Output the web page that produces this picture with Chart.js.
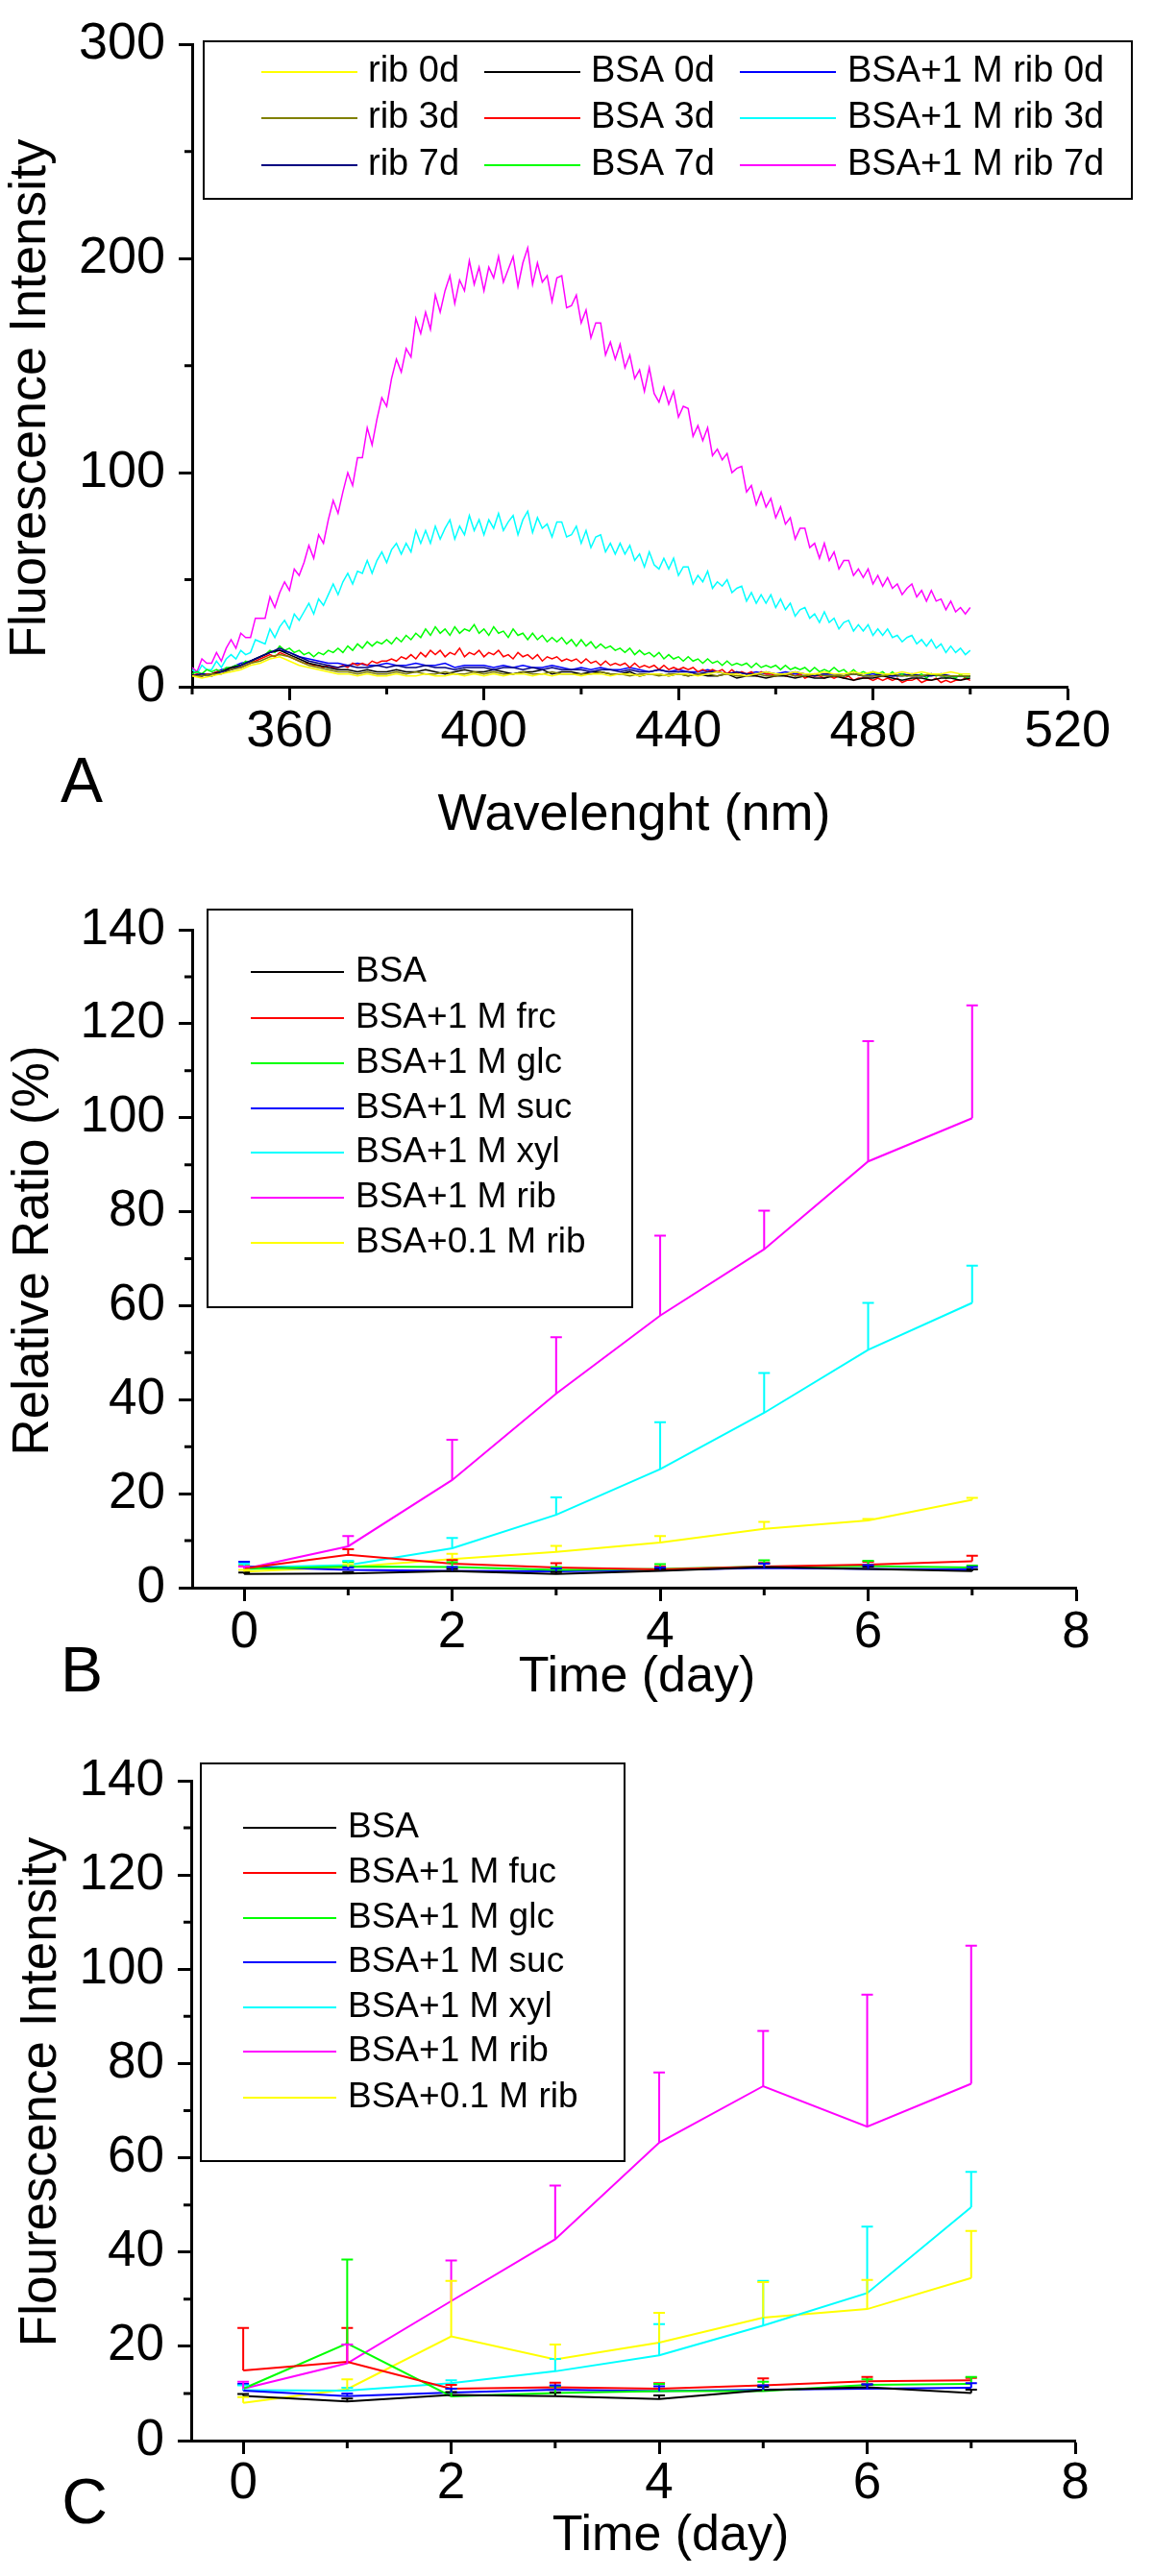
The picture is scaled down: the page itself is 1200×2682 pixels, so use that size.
<!DOCTYPE html>
<html>
<head>
<meta charset="utf-8">
<script src="https://cdn.jsdelivr.net/npm/chart.js@4.4.1/dist/chart.umd.min.js"></script>
<style>
  html, body { margin: 0; padding: 0; background: #fff; }
  .panel { position: absolute; left: 0; width: 1200px; height: 894px; }
</style>
</head>
<body>
<div class="panel" style="top:0px"><canvas id="chartA" width="1200" height="894"></canvas></div>
<div class="panel" style="top:894px"><canvas id="chartB" width="1200" height="894"></canvas></div>
<div class="panel" style="top:1788px"><canvas id="chartC" width="1200" height="894"></canvas></div>
<script>
  'use strict';

  const FONT = "'Liberation Sans', Arial, sans-serif";

  // ---------- panel A : emission spectra 340-500 nm ----------
  // the strong curves are read every 1 nm, the flat ones every 2 nm
  const waveFine = [];
  for (let w = 340; w <= 500; w += 1) waveFine.push(w);
  const waveCoarse = [];
  for (let w = 340; w <= 500; w += 2) waveCoarse.push(w);

  const specRib0 = [5, 4, 5, 6, 7, 8, 10, 11, 13, 14,
    12, 10, 9, 8, 7, 6, 6, 5, 6, 5,
    5, 6, 5, 5, 6, 5, 5, 6, 5, 6,
    5, 6, 5, 6, 6, 5, 6, 5, 6, 6,
    5, 6, 6, 5, 6, 6, 5, 6, 6, 5,
    6, 6, 5, 6, 7, 6, 6, 5, 6, 7,
    6, 6, 7, 6, 6, 7, 6, 6, 7, 6,
    7, 6, 6, 7, 6, 7, 6, 6, 7, 6,
    6];
  const specRib3 = [5, 5, 6, 6, 8, 9, 11, 12, 14, 15,
    14, 12, 10, 9, 8, 7, 7, 6, 7, 6,
    6, 7, 6, 7, 6, 6, 7, 6, 6, 7,
    6, 7, 6, 6, 7, 6, 6, 7, 6, 6,
    6, 6, 7, 6, 6, 5, 6, 6, 5, 6,
    6, 5, 6, 6, 5, 6, 5, 5, 6, 5,
    5, 6, 5, 5, 6, 5, 5, 5, 6, 5,
    5, 5, 6, 5, 5, 5, 6, 5, 5, 5,
    5];
  const specRib7 = [5, 6, 5, 7, 8, 10, 12, 14, 16, 18,
    16, 14, 12, 11, 10, 9, 10, 9, 9, 10,
    9, 10, 9, 9, 10, 9, 9, 8, 9, 9,
    9, 8, 9, 9, 8, 9, 8, 9, 8, 8,
    8, 7, 8, 8, 7, 8, 7, 7, 8, 7,
    7, 7, 6, 7, 7, 6, 7, 6, 6, 7,
    6, 6, 7, 6, 5, 6, 6, 5, 6, 5,
    5, 6, 5, 5, 6, 5, 5, 6, 5, 5,
    5];
  const specBsa0 = [5, 5, 6, 7, 9, 10, 12, 14, 16, 17,
    15, 13, 11, 10, 9, 8, 8, 7, 8, 7,
    7, 8, 7, 7, 8, 7, 6, 7, 8, 7,
    7, 8, 7, 6, 7, 7, 8, 6, 7, 7,
    6, 7, 7, 6, 6, 7, 5, 6, 6, 5,
    6, 5, 6, 5, 5, 6, 4, 5, 5, 4,
    5, 5, 4, 5, 4, 4, 5, 4, 3, 4,
    4, 5, 4, 3, 4, 4, 3, 4, 4, 3,
    4];
  const specMix0 = [5, 6, 6, 8, 9, 11, 12, 14, 16, 17,
    16, 14, 13, 12, 11, 11, 10, 11, 10, 10,
    11, 10, 10, 11, 10, 10, 11, 9, 10, 10,
    10, 9, 10, 9, 10, 9, 9, 10, 9, 8,
    9, 8, 9, 8, 8, 9, 8, 7, 8, 7,
    8, 7, 7, 8, 7, 6, 7, 6, 7, 6,
    6, 7, 6, 6, 5, 6, 6, 5, 6, 5,
    6, 5, 5, 6, 5, 5, 6, 5, 5, 5,
    5];

  const specBsa3 = [5, 6, 5, 6, 6, 7, 7, 8, 8, 9,
    9, 10, 11, 12, 13, 14, 15, 14, 16, 15,
    14, 13, 12, 11, 11, 10, 10, 9, 10, 9,
    9, 10, 9, 11, 10, 11, 10, 12, 11, 12,
    12, 13, 12, 14, 13, 15, 13, 16, 14, 17,
    15, 17, 14, 16, 15, 18, 14, 16, 15, 17,
    14, 16, 15, 17, 14, 15, 13, 16, 14, 15,
    13, 15, 12, 14, 13, 14, 12, 13, 12, 13,
    11, 13, 11, 12, 10, 12, 10, 11, 10, 11,
    9, 11, 9, 10, 9, 10, 8, 10, 8, 9,
    8, 9, 8, 9, 7, 8, 7, 8, 7, 8,
    6, 8, 6, 7, 6, 7, 5, 7, 6, 6,
    5, 6, 5, 6, 5, 6, 4, 5, 5, 5,
    4, 5, 4, 5, 4, 5, 3, 4, 4, 4,
    3, 4, 3, 4, 3, 4, 2, 3, 3, 4,
    2, 3, 3, 4, 2, 3, 2, 3, 3, 4,
    3];
  const specBsa7 = [6, 7, 6, 8, 7, 8, 7, 9, 9, 10,
    10, 12, 11, 13, 14, 15, 17, 16, 19, 17,
    18, 16, 17, 15, 16, 14, 16, 15, 17, 16,
    18, 16, 19, 17, 20, 18, 21, 19, 21, 20,
    22, 20, 23, 21, 24, 22, 25, 23, 27, 24,
    28, 25, 27, 24, 28, 25, 27, 26, 29, 25,
    27, 24, 28, 25, 26, 23, 27, 24, 25, 22,
    25, 22, 24, 21, 23, 21, 23, 20, 22, 19,
    22, 19, 21, 18, 20, 18, 19, 17, 18, 16,
    18, 15, 17, 15, 16, 14, 16, 13, 15, 13,
    14, 12, 14, 12, 13, 11, 13, 11, 12, 10,
    12, 10, 11, 10, 11, 9, 11, 9, 10, 9,
    10, 8, 10, 8, 9, 8, 9, 7, 9, 7,
    8, 7, 9, 7, 8, 6, 8, 6, 7, 6,
    7, 6, 7, 5, 7, 5, 6, 5, 6, 5,
    6, 4, 6, 5, 6, 4, 5, 4, 6, 4,
    5];
  const specMix3 = [8, 6, 10, 8, 8, 12, 9, 13, 15, 13,
    17, 15, 16, 22, 21, 20, 27, 23, 28, 31,
    27, 34, 31, 35, 39, 34, 41, 38, 43, 48,
    43, 49, 53, 48, 54, 53, 59, 53, 59, 63,
    58, 64, 67, 62, 67, 63, 73, 67, 73, 67,
    75, 69, 74, 78, 69, 75, 71, 80, 73, 78,
    71, 78, 74, 81, 73, 77, 80, 71, 78, 82,
    72, 79, 74, 76, 70, 77, 77, 70, 71, 75,
    67, 73, 65, 70, 71, 63, 67, 62, 67, 62,
    66, 59, 62, 56, 63, 57, 55, 60, 55, 60,
    52, 56, 56, 48, 52, 49, 54, 46, 49, 47,
    50, 44, 46, 47, 40, 44, 39, 43, 39, 43,
    37, 41, 36, 39, 33, 36, 37, 32, 34, 30,
    35, 30, 32, 27, 30, 31, 26, 29, 26, 29,
    24, 27, 24, 27, 23, 24, 21, 23, 24, 20,
    22, 19, 22, 18, 20, 16, 19, 16, 18, 15,
    17];
  const specMix7 = [9, 7, 13, 11, 11, 16, 12, 18, 22, 18,
    25, 23, 23, 32, 32, 32, 42, 37, 44, 49,
    45, 55, 52, 58, 66, 60, 71, 67, 78, 87,
    81, 91, 100, 94, 107, 107, 121, 113, 125, 135,
    131, 144, 153, 147, 158, 154, 172, 165, 175, 167,
    183, 175, 185, 192, 179, 190, 185, 199, 188, 196,
    185, 196, 191, 201, 189, 195, 201, 187, 198, 205,
    188, 198, 189, 192, 180, 191, 192, 177, 178, 183,
    170, 176, 163, 170, 170, 155, 161, 153, 160, 149,
    155, 144, 148, 138, 149, 137, 133, 140, 132, 138,
    126, 131, 130, 117, 122, 115, 121, 108, 111, 106,
    109, 100, 102, 103, 91, 94, 85, 91, 84, 88,
    79, 84, 76, 79, 69, 74, 74, 65, 67, 60,
    67, 59, 63, 55, 59, 59, 52, 55, 51, 55,
    48, 52, 47, 51, 46, 48, 43, 46, 48, 42,
    45, 40, 45, 40, 41, 36, 40, 35, 37, 34,
    37];

  // ---------- panels B and C : daily means and upper error bars ----------
  const days = [0, 1, 2, 3, 4, 5, 6, 7];

  const ratioBsa = [2.9, 3.0, 3.5, 2.9, 3.6, 4.4, 4.0, 3.5];
  const ratioBsaErr = [0.3, 0.3, 0.5, 0.4, 0.4, 0.8, 0.5, 0.4];
  const ratioFrc = [4.1, 7.0, 5.1, 4.3, 3.9, 4.5, 4.9, 5.6];
  const ratioFrcErr = [0.5, 1.2, 0.8, 0.9, 0.6, 0.7, 0.6, 1.2];
  const ratioGlc = [4.0, 4.5, 4.4, 3.8, 4.0, 4.5, 4.6, 4.3];
  const ratioGlcErr = [0.6, 1.0, 1.0, 0.6, 1.0, 1.3, 1.1, 0.4];
  const ratioSuc = [4.5, 3.8, 3.6, 3.5, 3.8, 4.2, 4.0, 3.9];
  const ratioSucErr = [1.0, 0.5, 0.8, 0.6, 0.5, 0.9, 0.8, 0.5];
  const ratioXyl = [4.3, 4.8, 8.4, 15.5, 25.2, 37.2, 50.6, 60.6];
  const ratioXylErr = [0.8, 0.9, 2.2, 3.7, 10.0, 8.5, 10.0, 7.9];
  const ratioRib = [4.0, 8.8, 22.9, 41.3, 57.9, 72.0, 90.7, 99.9];
  const ratioRibErr = [0.5, 2.2, 8.6, 12.0, 17.0, 8.2, 25.6, 24.0];
  const ratioRib01 = [3.4, 4.4, 6.1, 7.6, 9.6, 12.5, 14.3, 18.7];
  const ratioRib01Err = [0.4, 0.6, 1.1, 1.3, 1.4, 1.5, 0.3, 0.4];

  const fluoBsa = [9.5, 8.3, 9.7, 9.4, 8.8, 10.7, 11.3, 10.1];
  const fluoBsaErr = [0.4, 0.6, 0.6, 0.8, 0.8, 0.7, 0.6, 0.7];
  const fluoFuc = [14.9, 16.7, 11.0, 11.3, 11.0, 11.7, 12.6, 12.8];
  const fluoFucErr = [9.0, 7.2, 0.8, 1.0, 1.2, 1.5, 0.9, 0.5];
  const fluoGlc = [11.0, 20.6, 9.4, 10.1, 10.5, 10.5, 11.8, 12.0];
  const fluoGlcErr = [0.8, 17.8, 1.6, 1.4, 1.5, 2.0, 1.2, 1.5];
  const fluoSuc = [10.6, 9.4, 10.2, 10.8, 10.5, 10.8, 11.0, 11.2];
  const fluoSucErr = [1.4, 0.6, 0.8, 0.9, 1.0, 0.9, 0.9, 1.0];
  const fluoXyl = [10.7, 10.6, 12.2, 14.7, 18.1, 24.4, 31.3, 49.5];
  const fluoXylErr = [1.0, 0.6, 0.6, 2.6, 6.6, 9.5, 14.1, 7.5];
  const fluoRib = [11.0, 16.4, 29.6, 42.7, 63.2, 75.2, 66.6, 75.7];
  const fluoRibErr = [1.5, 4.0, 8.6, 11.4, 14.9, 11.7, 28.0, 29.3];
  const fluoRib01 = [8.0, 10.9, 22.1, 17.2, 20.8, 26.1, 27.9, 34.5];
  const fluoRib01Err = [1.2, 2.1, 11.8, 3.2, 6.3, 7.5, 6.2, 10.0];

  // ---------- helpers ----------
  function spectrum(label, color, values, grid) {
    return {
      label: label, borderColor: color, backgroundColor: color, borderWidth: 1.5,
      data: values.map((v, i) => ({ x: grid[i], y: v })),
      pointRadius: 0, tension: 0, fill: false
    };
  }

  function timeSeries(label, color, values, errs) {
    return {
      label: label, borderColor: color, backgroundColor: color, borderWidth: 2,
      data: values.map((v, i) => ({ x: days[i], y: v })),
      errorBars: errs, pointRadius: 0, tension: 0, fill: false
    };
  }

  function axis(o) {
    return {
      type: 'linear', position: o.position, min: o.min, max: o.max,
      afterBuildTicks: s => { s.ticks = o.major.map(v => ({ value: v })); },
      afterFit: s => {
        if (o.position === 'left') s.width = o.size; else s.height = o.size;
      },
      border: { display: true, color: '#000', width: 3 },
      grid: { drawOnChartArea: false, drawTicks: true, tickLength: 14, tickWidth: 3, tickColor: '#000' },
      ticks: {
        padding: o.pad, color: '#000', font: { size: o.font, family: FONT },
        maxRotation: 0, autoSkip: false, callback: v => String(v)
      }
    };
  }

  // short outward ticks between the labelled ones
  function minorTicks(xs, ys) {
    return {
      id: 'minorTicks',
      afterDraw(chart) {
        const ctx = chart.ctx, area = chart.chartArea;
        ctx.save();
        ctx.strokeStyle = '#000';
        ctx.lineWidth = 3;
        ctx.beginPath();
        xs.forEach(v => {
          const px = chart.scales.x.getPixelForValue(v);
          ctx.moveTo(px, area.bottom); ctx.lineTo(px, area.bottom + 8);
        });
        ys.forEach(v => {
          const py = chart.scales.y.getPixelForValue(v);
          ctx.moveTo(area.left, py); ctx.lineTo(area.left - 8, py);
        });
        ctx.stroke();
        ctx.restore();
      }
    };
  }

  // upper error bars with a small cap
  const errorBars = {
    id: 'errorBars',
    afterDatasetsDraw(chart) {
      const ctx = chart.ctx, xs = chart.scales.x, ys = chart.scales.y;
      chart.data.datasets.forEach(ds => {
        if (!ds.errorBars) return;
        ctx.save();
        ctx.strokeStyle = ds.borderColor;
        ctx.lineWidth = 2;
        ds.data.forEach((pt, j) => {
          const x = xs.getPixelForValue(pt.x);
          const y0 = ys.getPixelForValue(pt.y);
          const y1 = ys.getPixelForValue(pt.y + ds.errorBars[j]);
          ctx.beginPath();
          ctx.moveTo(x, y0); ctx.lineTo(x, y1);
          ctx.moveTo(x - 6, y1); ctx.lineTo(x + 6, y1);
          ctx.stroke();
        });
        ctx.restore();
      });
    }
  };

  // framed legend, drawn from the dataset labels and colours
  function boxLegend(spec) {
    return {
      id: 'boxLegend',
      afterDraw(chart) {
        const ctx = chart.ctx;
        const [l, t, r, b] = spec.box;
        ctx.save();
        ctx.fillStyle = '#fff';
        ctx.fillRect(l, t, r - l, b - t);
        ctx.strokeStyle = '#000';
        ctx.lineWidth = 2;
        ctx.strokeRect(l, t, r - l, b - t);
        ctx.font = spec.font + 'px ' + FONT;
        ctx.textBaseline = 'middle';
        ctx.textAlign = 'left';
        chart.data.datasets.forEach((ds, i) => {
          const cell = spec.cell(i);
          const col = spec.cols[cell[0]], y = spec.rows[cell[1]];
          ctx.strokeStyle = ds.borderColor;
          ctx.lineWidth = 2;
          ctx.beginPath();
          ctx.moveTo(col[0], y); ctx.lineTo(col[1], y);
          ctx.stroke();
          ctx.fillStyle = '#000';
          ctx.fillText(ds.label, col[2], y);
        });
        ctx.restore();
      }
    };
  }

  // axis titles and panel letters
  function freeText(items) {
    return {
      id: 'freeText',
      afterDraw(chart) {
        const ctx = chart.ctx;
        items.forEach(it => {
          ctx.save();
          ctx.font = it.size + 'px ' + FONT;
          ctx.fillStyle = '#000';
          ctx.textAlign = 'center';
          ctx.textBaseline = it.base || 'middle';
          ctx.translate(it.x, it.y);
          if (it.rot) ctx.rotate(it.rot * Math.PI / 180);
          ctx.fillText(it.text, 0, 0);
          ctx.restore();
        });
      }
    };
  }

  function makeChart(id, cfg) {
    return new Chart(document.getElementById(id), {
      type: 'line',
      data: { datasets: cfg.datasets },
      options: {
        responsive: false, animation: false, devicePixelRatio: 1, events: [],
        layout: { padding: cfg.padding },
        plugins: { legend: { display: false }, tooltip: { enabled: false } },
        scales: { x: axis(cfg.x), y: axis(cfg.y) }
      },
      plugins: [minorTicks(cfg.x.minor, cfg.y.minor), errorBars, boxLegend(cfg.legend), freeText(cfg.texts)]
    });
  }

  Chart.defaults.font.family = FONT;
  Chart.defaults.color = '#000';

  const sugarColors = ['#000000', '#ff0000', '#00ff00', '#0000ff', '#00ffff', '#ff00ff', '#ffff00'];
  const tens = [10, 30, 50, 70, 90, 110, 130];
  const twenties = [0, 20, 40, 60, 80, 100, 120, 140];

  makeChart('chartA', {
    datasets: [
      spectrum('rib 0d', '#ffff00', specRib0, waveCoarse),
      spectrum('rib 3d', '#808000', specRib3, waveCoarse),
      spectrum('rib 7d', '#000080', specRib7, waveCoarse),
      spectrum('BSA 0d', '#000000', specBsa0, waveCoarse),
      spectrum('BSA 3d', '#ff0000', specBsa3, waveFine),
      spectrum('BSA 7d', '#00ff00', specBsa7, waveFine),
      spectrum('BSA+1 M rib 0d', '#0000ff', specMix0, waveCoarse),
      spectrum('BSA+1 M rib 3d', '#00ffff', specMix3, waveFine),
      spectrum('BSA+1 M rib 7d', '#ff00ff', specMix7, waveFine)
    ],
    padding: { left: 0, top: 43, right: 89, bottom: 0 },
    x: { position: 'bottom', min: 340, max: 520, major: [360, 400, 440, 480, 520], minor: [340, 380, 420, 460, 500], size: 179, pad: 1, font: 54 },
    y: { position: 'left', min: 0, max: 300, major: [0, 100, 200, 300], minor: [50, 150, 250], size: 200, pad: 14, font: 54 },
    legend: {
      box: [212, 43, 1178, 207], font: 38,
      rows: [75, 123, 172],
      cols: [[272, 372, 383], [504, 604, 615], [770, 870, 882]],
      cell: i => [Math.floor(i / 3), i % 3]
    },
    texts: [
      { text: 'Fluorescence Intensity', x: 32, y: 415, size: 54, rot: -90 },
      { text: 'Wavelenght (nm)', x: 660, y: 849, size: 54 },
      { text: 'A', x: 85, y: 835, size: 66, base: 'alphabetic' }
    ]
  });

  const ratioSets = [ratioBsa, ratioFrc, ratioGlc, ratioSuc, ratioXyl, ratioRib, ratioRib01];
  const ratioErrs = [ratioBsaErr, ratioFrcErr, ratioGlcErr, ratioSucErr, ratioXylErr, ratioRibErr, ratioRib01Err];
  const ratioLabels = ['BSA', 'BSA+1 M frc', 'BSA+1 M glc', 'BSA+1 M suc', 'BSA+1 M xyl', 'BSA+1 M rib', 'BSA+0.1 M rib'];

  makeChart('chartB', {
    datasets: ratioLabels.map((lb, i) => timeSeries(lb, sugarColors[i], ratioSets[i], ratioErrs[i])),
    padding: { left: 0, top: 74, right: 80, bottom: 0 },
    x: { position: 'bottom', min: -0.5, max: 8, major: [0, 2, 4, 6, 8], minor: [1, 3, 5, 7], size: 135, pad: 2, font: 53 },
    y: { position: 'left', min: 0, max: 140, major: twenties, minor: tens, size: 200, pad: 14, font: 53 },
    legend: {
      box: [216, 53, 658, 467], font: 37,
      rows: [118, 166, 213, 260, 306, 353, 400],
      cols: [[261, 358, 370]],
      cell: i => [0, i]
    },
    texts: [
      { text: 'Relative Ratio (%)', x: 35, y: 408, size: 53, rot: -90 },
      { text: 'Time (day)', x: 663, y: 853, size: 52 },
      { text: 'B', x: 85, y: 867, size: 66, base: 'alphabetic' }
    ]
  });

  const fluoSets = [fluoBsa, fluoFuc, fluoGlc, fluoSuc, fluoXyl, fluoRib, fluoRib01];
  const fluoErrs = [fluoBsaErr, fluoFucErr, fluoGlcErr, fluoSucErr, fluoXylErr, fluoRibErr, fluoRib01Err];
  const fluoLabels = ['BSA', 'BSA+1 M fuc', 'BSA+1 M glc', 'BSA+1 M suc', 'BSA+1 M xyl', 'BSA+1 M rib', 'BSA+0.1 M rib'];

  makeChart('chartC', {
    datasets: fluoLabels.map((lb, i) => timeSeries(lb, sugarColors[i], fluoSets[i], fluoErrs[i])),
    padding: { left: 0, top: 66, right: 81, bottom: 0 },
    x: { position: 'bottom', min: -0.5, max: 8, major: [0, 2, 4, 6, 8], minor: [1, 3, 5, 7], size: 141, pad: 0, font: 53 },
    y: { position: 'left', min: 0, max: 140, major: twenties, minor: tens, size: 199, pad: 14, font: 53 },
    legend: {
      box: [209, 48, 650, 462], font: 37,
      rows: [115, 162, 209, 255, 302, 348, 396],
      cols: [[253, 350, 362]],
      cell: i => [0, i]
    },
    texts: [
      { text: 'Flourescence Intensity', x: 43, y: 390, size: 53, rot: -90 },
      { text: 'Time (day)', x: 698, y: 853, size: 52 },
      { text: 'C', x: 88, y: 839, size: 66, base: 'alphabetic' }
    ]
  });
</script>
</body>
</html>
